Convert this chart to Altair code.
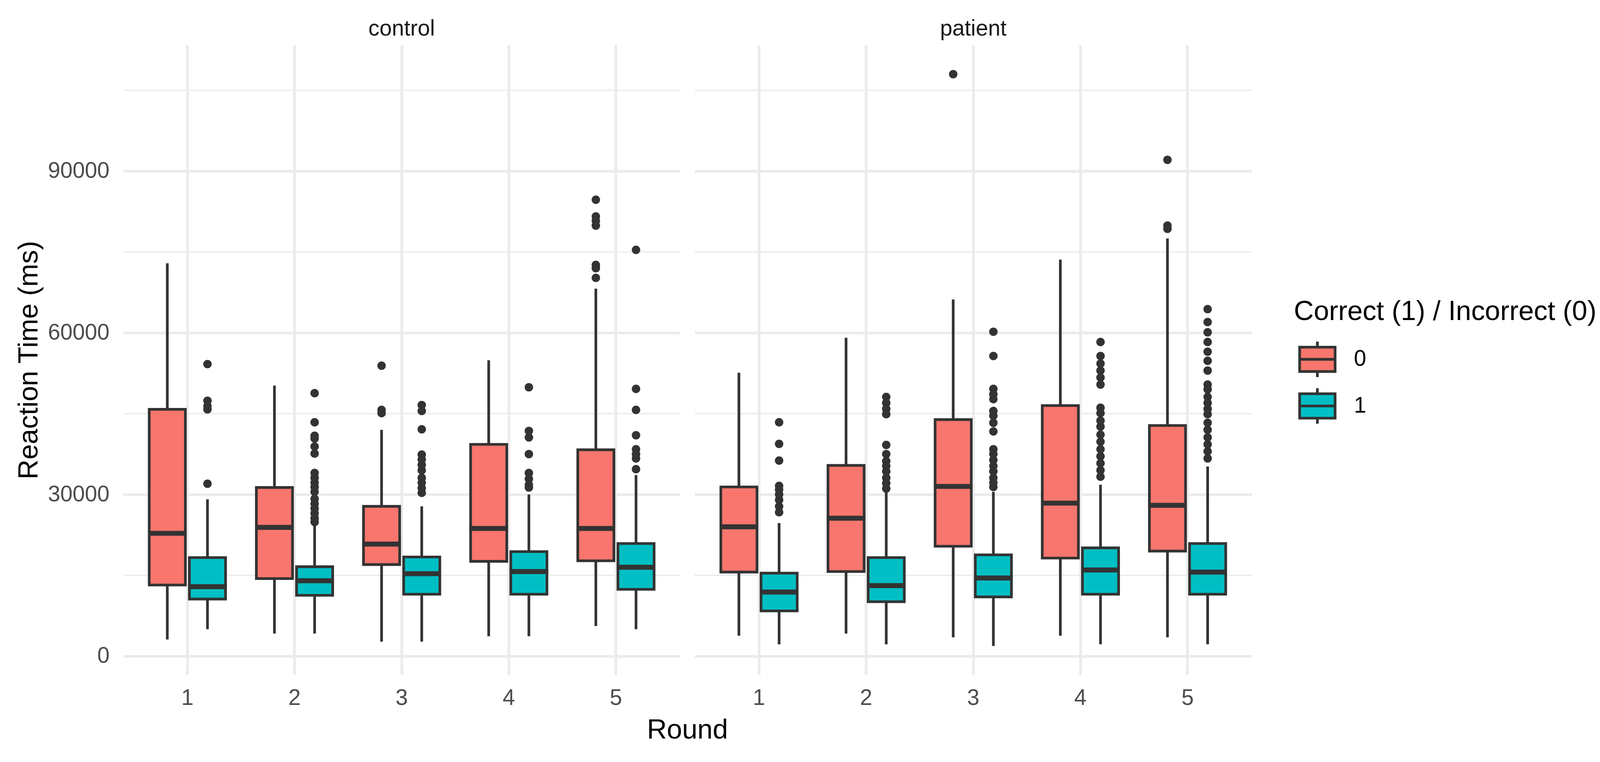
import altair as alt
import pandas as pd

groups = ["control", "patient"]
rounds = ["1", "2", "3", "4", "5"]
correct_levels = ["0", "1"]
fill_colors = ["#F8766D", "#00BFC4"]
major_breaks = [0, 30000, 60000, 90000]
minor_breaks = [15000, 45000, 75000, 105000]

# control, incorrect (0)
c0_lo = [3100, 4200, 2700, 3700, 5600]
c0_q1 = [13200, 14400, 17000, 17600, 17700]
c0_med = [22800, 23900, 20800, 23700, 23700]
c0_q3 = [45800, 31300, 27800, 39300, 38300]
c0_hi = [72900, 50200, 42000, 54900, 68200]
# control, correct (1)
c1_lo = [5000, 4200, 2700, 3700, 5000]
c1_q1 = [10600, 11300, 11500, 11500, 12400]
c1_med = [12900, 14000, 15300, 15700, 16500]
c1_q3 = [18300, 16600, 18400, 19400, 20900]
c1_hi = [29100, 24700, 27800, 30000, 33600]
# patient, incorrect (0)
p0_lo = [3800, 4200, 3500, 3800, 3500]
p0_q1 = [15600, 15700, 20400, 18200, 19500]
p0_med = [24000, 25600, 31500, 28400, 28000]
p0_q3 = [31400, 35400, 43900, 46500, 42800]
p0_hi = [52600, 59100, 66200, 73600, 77500]
# patient, correct (1)
p1_lo = [2200, 2200, 1900, 2200, 2200]
p1_q1 = [8400, 10100, 11000, 11500, 11500]
p1_med = [11900, 13100, 14500, 16000, 15600]
p1_q3 = [15400, 18300, 18800, 20100, 20900]
p1_hi = [24700, 30500, 30500, 31800, 35200]

# outliers per round
c0_out = {"3": [53900, 45700, 45100],
          "5": [84700, 81600, 80800, 79900, 72600, 72000, 70200]}
c1_out = {"1": [54200, 47400, 46400, 45800, 32000],
          "2": [48800, 43400, 40900, 40400, 38900, 37600, 34000, 33100, 32200,
                31400, 30500, 29200, 28300, 27400, 26500, 25600, 24900],
          "3": [46600, 45500, 42100, 37400, 36500, 35500, 34500, 33100, 32200,
                31200, 30300],
          "4": [49900, 41800, 40600, 37500, 34000, 32900, 31800, 31300],
          "5": [75400, 49600, 45700, 41000, 38400, 37500, 36700, 34700]}
p0_out = {"3": [108000],
          "5": [92100, 79900, 79300]}
p1_out = {"1": [43400, 39400, 36300, 31600, 30900, 30000, 29000, 27800, 26700],
          "2": [48100, 47000, 45900, 44900, 39200, 37500, 36200, 35300, 34300,
                33100, 32100, 31100],
          "3": [60200, 55700, 49600, 48600, 47700, 45500, 44600, 43300, 41700,
                38400, 37500, 36400, 35300, 34300, 33100, 32200, 31400],
          "4": [58300, 55700, 54300, 53000, 51700, 50400, 46100, 45100, 43700,
                42600, 41100, 39800, 38400, 37100, 35800, 34500, 33300],
          "5": [64400, 62000, 60100, 58300, 56500, 54800, 53000, 50400, 49500,
                48100, 47000, 45900, 44900, 43300, 42000, 40600, 39300, 38000,
                36700]}

series = [
    ("control", "0", c0_lo, c0_q1, c0_med, c0_q3, c0_hi, c0_out),
    ("control", "1", c1_lo, c1_q1, c1_med, c1_q3, c1_hi, c1_out),
    ("patient", "0", p0_lo, p0_q1, p0_med, p0_q3, p0_hi, p0_out),
    ("patient", "1", p1_lo, p1_q1, p1_med, p1_q3, p1_hi, p1_out),
]

rows = []
for grp, corr, lo, q1, med, q3, hi, outs in series:
    for i, r in enumerate(rounds):
        rows.append(dict(kind="box", group=grp, Round=r, Correct=corr,
                         lo=lo[i], q1=q1[i], med=med[i], q3=q3[i], hi=hi[i]))
    for r, vals in outs.items():
        for v in vals:
            rows.append(dict(kind="out", group=grp, Round=r, Correct=corr, value=v))
for grp in groups:
    for v in minor_breaks:
        rows.append(dict(kind="minor", group=grp, value=v))
df = pd.DataFrame(rows)

GRID = "#EBEBEB"
INK = "#333333"
YTITLE = "Reaction Time (ms)"
ydom = alt.Scale(domain=[-3470, 113420], nice=False, zero=False)

X = alt.X("Round:N", scale=alt.Scale(domain=rounds, paddingInner=0, paddingOuter=0.1),
          axis=alt.Axis(title=None, labelAngle=0, bandPosition=0.5, grid=True,
                        labelPadding=32))
XO = alt.XOffset("Correct:N", scale=alt.Scale(domain=correct_levels, paddingInner=0.1,
                                               paddingOuter=0.3833))


def Y(field):
    return alt.Y(field, scale=ydom, title=YTITLE,
                 axis=alt.Axis(values=major_breaks, format="d", labelPadding=34,
                               titlePadding=12))


base = alt.Chart()

minor = base.mark_rule(color=GRID, strokeWidth=3.5).encode(
    y=Y("value:Q")
).transform_filter(alt.datum.kind == "minor")

whisk_lo = base.mark_rule(color=INK, strokeWidth=7).encode(
    x=X, xOffset=XO, y=Y("lo:Q"), y2="q1:Q"
).transform_filter(alt.datum.kind == "box")

whisk_hi = base.mark_rule(color=INK, strokeWidth=7).encode(
    x=X, xOffset=XO, y=Y("q3:Q"), y2="hi:Q"
).transform_filter(alt.datum.kind == "box")

boxpath = "M-0.8,-0.55H0.8V0.55H-0.8Z M-0.8,0H0.8 M0,-0.55V-0.8 M0,0.55V0.8"

boxes = base.mark_bar(stroke=INK, strokeWidth=7, opacity=1).encode(
    x=X, xOffset=XO, y=Y("q1:Q"), y2="q3:Q",
    fill=alt.Fill("Correct:N", scale=alt.Scale(domain=correct_levels, range=fill_colors),
                  legend=alt.Legend(title="Correct (1) / Incorrect (0)",
                                    orient="none", legendX=3064, legendY=663,
                                    symbolType=boxpath, symbolSize=13456,
                                    symbolStrokeColor=INK, symbolStrokeWidth=7,
                                    symbolOpacity=1, labelOffset=34,
                                    titlePadding=26, rowPadding=-10,
                                    titleLimit=2000, labelLimit=500))
).transform_filter(alt.datum.kind == "box")

medians = base.mark_tick(color=INK, thickness=13, size=101, opacity=1).encode(
    x=X, xOffset=XO, y=Y("med:Q")
).transform_filter(alt.datum.kind == "box")

outliers = base.mark_circle(color=INK, size=490, opacity=1).encode(
    x=X, xOffset=XO, y=Y("value:Q")
).transform_filter(alt.datum.kind == "out")

layered = alt.layer(minor, whisk_lo, whisk_hi, boxes, medians, outliers).properties(
    width=1458, height=1648
)

chart = layered.facet(
    data=df,
    column=alt.Column("group:N", sort=groups,
                      header=alt.Header(title="Round", titleOrient="bottom",
                                        labelOrient="top", labelBaseline="alphabetic",
                                        labelPadding=-33, titlePadding=10)),
    spacing=34,
).properties(
    padding={"left": 31, "top": 17, "right": 0, "bottom": 0}
).configure(
    font="Liberation Sans"
).configure_view(
    stroke=None
).configure_axis(
    domain=False, ticks=False, labelFontSize=58, labelColor="#4D4D4D",
    gridColor=GRID, gridWidth=7, titleFontSize=72, titleColor="#000000",
    titleFontWeight="normal"
).configure_header(
    labelFontSize=58, labelColor="#1A1A1A", titleFontSize=72,
    titleColor="#000000", titleFontWeight="normal"
).configure_legend(
    titleFontSize=72, titleFontWeight="normal", titleColor="#000000",
    labelFontSize=58, labelColor="#000000"
)

chart.save("out.html", embed_options={"renderer": "svg", "actions": False})
